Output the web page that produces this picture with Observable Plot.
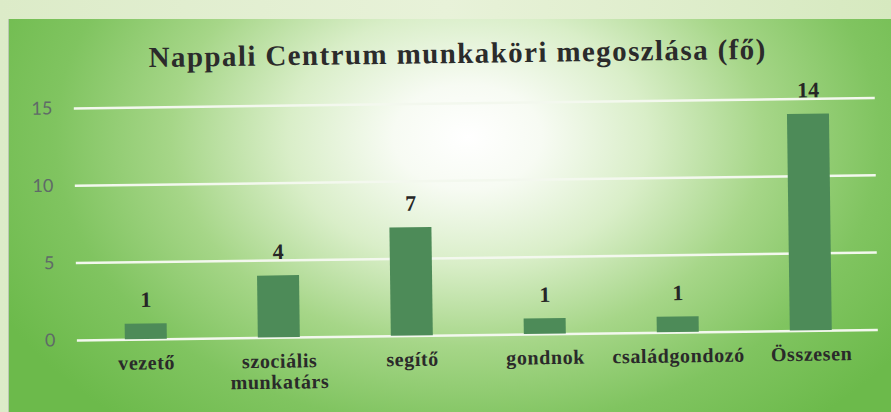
<!DOCTYPE html>
<html>
<head>
<meta charset="utf-8">
<script src="https://cdn.jsdelivr.net/npm/d3@7"></script>
<script src="https://cdn.jsdelivr.net/npm/@observablehq/plot@0.6"></script>
<style>
  html, body { margin: 0; padding: 0; }
  body { width: 891px; height: 412px; overflow: hidden;
    background: linear-gradient(90deg, #dcebc8 0%, #e8f2d9 50%, #d6e9bf 100%); position: relative; }
  #panel { position: absolute; left: 8px; top: 19px; width: 883px; height: 393px;
    border-left: 1px solid #b9c9b0; box-sizing: border-box;
    background: radial-gradient(ellipse 60% 95% at 52% 30%, #ffffff 0%, #f7fbf3 14%, #d9eec8 34%, #a6d688 56%, #80c460 78%, #6cba4b 100%); }
  #content { position: absolute; left: 0; top: 0; width: 883px; height: 393px; transform: rotate(-0.75deg); transform-origin: 50% 45%; }
  #title { height: 60px; line-height: 60px; text-align: center; font-family: "Liberation Serif", "Times New Roman", serif;
    font-weight: bold; font-size: 29px; letter-spacing: 1.4px; color: #2b2b2b; padding-top: 4px; padding-left: 18px; box-sizing: border-box; }
  svg { display: block; }
</style>
</head>
<body>
<div id="panel"><div id="content"><div id="title">Nappali Centrum munkaköri megoszlása (fő)</div><div id="chart"></div></div></div>
<script>
const categories = ["vezető", "szociális munkatárs", "segítő", "gondnok", "családgondozó", "Összesen"];
const values = [1, 4, 7, 1, 1, 14];
const tickLabels = ["vezető", "szociális\nmunkatárs", "segítő", "gondnok", "családgondozó", "Összesen"];
const yTicks = [0, 5, 10, 15];

const data = categories.map((c, i) => ({cat: c, val: values[i]}));
const serif = "Liberation Serif, Times New Roman, serif";

const chart = Plot.plot({
  width: 883,
  height: 333,
  marginTop: 24,
  marginBottom: 77,
  marginLeft: 66,
  marginRight: 16,
  style: {background: "transparent", overflow: "visible"},
  x: {domain: categories, range: [66, 868], paddingInner: 0.686, paddingOuter: 0.343, label: null},
  y: {domain: [0, 15], label: null},
  marks: [
    Plot.ruleY(yTicks, {stroke: "#f3f8ee", strokeWidth: 2.5}),
    Plot.barY(data, {x: "cat", y: "val", fill: "#4d8b58"}),
    Plot.text(data, {x: "cat", y: "val", text: d => String(d.val), dy: -17, lineAnchor: "bottom",
      fontFamily: serif, fontWeight: "bold", fontSize: 22, fill: "#262626"}),
    Plot.axisY({ticks: yTicks, tickSize: 0, tickPadding: 22, fontSize: 18, fontFamily: "Lato, Open Sans, sans-serif",
      color: "#5f6a68", label: null}),
    Plot.axisX({tickSize: 0, tickPadding: 15, tickFormat: d => tickLabels[categories.indexOf(d)],
      fontFamily: serif, fontWeight: "bold", fontSize: 20, lineHeight: 1.05, color: "#2a2a2a", label: null})
  ]
});
chart.querySelectorAll("text").forEach(t => {
  if (t.closest("g[aria-label='x-axis tick label']")) t.setAttribute("letter-spacing", "0.6");
});
document.getElementById("chart").appendChild(chart);
</script>
</body>
</html>
